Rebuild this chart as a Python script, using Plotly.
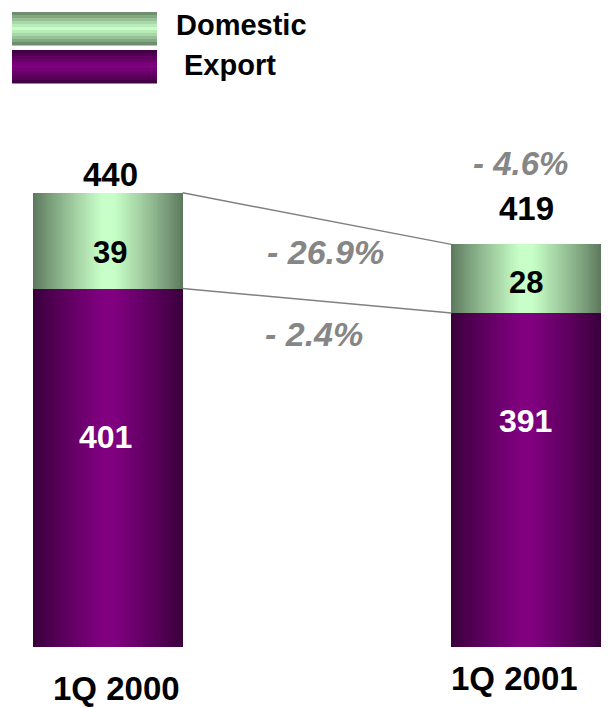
import plotly.graph_objects as go

# ---- data ----
periods = ["1Q 2000", "1Q 2001"]
export = [401, 391]
domestic = [39, 28]
totals = [440, 419]
change_total = "- 4.6%"
change_domestic = "- 26.9%"
change_export = "- 2.4%"
series_names = ["Domestic", "Export"]

# ---- page geometry ----
W, H = 608, 708
M_L, M_R, M_T, M_B = 0, 0, 100, 61
PW, PH = W - M_L - M_R, H - M_T - M_B


def pxx(x):
    return (x - M_L) / PW


def pxy(y):
    return (H - M_B - y) / PH


FONT = "Liberation Sans, Arial, sans-serif"
BAR_W = 0.357
pos = list(range(len(periods)))

DOM_EDGE, DOM_MID = (94, 122, 94), (200, 255, 200)
EXP_EDGE, EXP_MID = (58, 0, 60), (128, 0, 128)


def blend(a, b, t):
    return "rgb(%d,%d,%d)" % tuple(round(a[i] + (b[i] - a[i]) * t) for i in range(3))


fig = go.Figure()

# nested bars of shrinking width give each column a shaded, cylinder-like fill
N = 40
for k in range(N):
    frac = 1 - k / N
    t = min(1.0, (k / (N - 1)) * 1.08) ** 0.9
    wid = [BAR_W * frac] * len(pos)
    fig.add_trace(go.Bar(x=pos, y=export, base=[0] * len(pos), width=wid,
                         marker=dict(color=blend(EXP_EDGE, EXP_MID, t), line=dict(width=0)),
                         showlegend=False, hoverinfo="skip"))
    fig.add_trace(go.Bar(x=pos, y=domestic, base=export, width=wid,
                         marker=dict(color=blend(DOM_EDGE, DOM_MID, t), line=dict(width=0)),
                         showlegend=False, hoverinfo="skip"))

# connector lines between the two columns
for vals in (totals, export):
    fig.add_trace(go.Scatter(x=[pos[0] + BAR_W / 2, pos[1] - BAR_W / 2], y=vals,
                             mode="lines", line=dict(color="#808080", width=1.5),
                             showlegend=False, hoverinfo="skip"))

shapes = []
annotations = []


def label(text, x, y, size, color="black", italic=False, xanchor="center"):
    annotations.append(dict(
        text=text, x=pxx(x), y=pxy(y), xref="paper", yref="paper",
        xanchor=xanchor, yanchor="middle", showarrow=False,
        font=dict(family=FONT, size=size, color=color, weight="bold",
                  style="italic" if italic else "normal")))


# legend swatches drawn as horizontal stripes
def swatch(x0, x1, y0, y1, edge, mid, n=11):
    h = (y1 - y0) / n
    for i in range(n):
        c = (i + 0.5) / n
        t = 1 - abs(c - 0.5) * 2
        shapes.append(dict(type="rect", xref="paper", yref="paper",
                           x0=pxx(x0), x1=pxx(x1), y0=pxy(y0 + i * h), y1=pxy(y0 + (i + 1) * h + 0.5),
                           fillcolor=blend(edge, mid, t ** 0.8), line=dict(width=0), layer="above"))


swatch(12, 157, 12, 45, DOM_EDGE, DOM_MID)
swatch(12, 157, 50, 83, EXP_EDGE, EXP_MID)
label(series_names[0], 174, 25, 29, xanchor="left")
label(series_names[1], 182, 65, 29, xanchor="left")

# value labels
label(str(totals[0]), 110, 174, 33)
label(str(totals[1]), 526, 208, 33)
label(str(domestic[0]), 110, 253, 31)
label(str(domestic[1]), 526, 282, 31)
label(str(export[0]), 106, 437, 32, color="white")
label(str(export[1]), 525, 421, 32, color="white")

# change labels
GREY = "#868686"
label(change_total, 520, 163, 33, color=GREY, italic=True)
label(change_domestic, 325, 252, 34, color=GREY, italic=True)
label(change_export, 314, 334, 34, color=GREY, italic=True)

# period labels
label(periods[0], 116, 688, 33)
label(periods[1], 514, 678, 33)

fig.update_layout(
    width=W, height=H,
    margin=dict(l=M_L, r=M_R, t=M_T, b=M_B, pad=0),
    paper_bgcolor="white", plot_bgcolor="white",
    barmode="overlay", bargap=0,
    xaxis=dict(range=[-108 / 418, (608 - 108) / 418], visible=False, fixedrange=True),
    yaxis=dict(range=[255, 255 + PH / 2.455], visible=False, fixedrange=True),
    shapes=shapes, annotations=annotations,
    showlegend=False,
)

fig.write_html("out.html")
